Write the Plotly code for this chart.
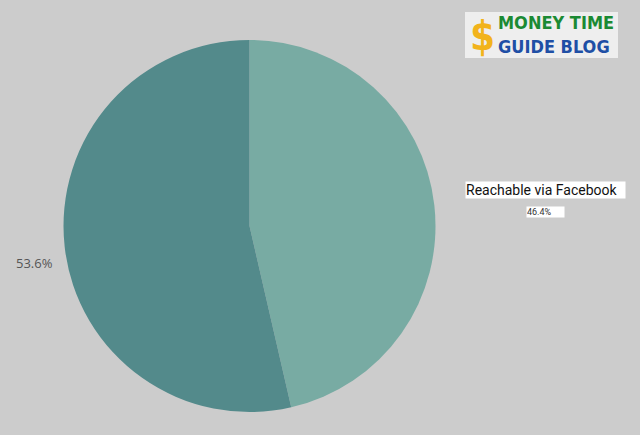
import plotly.graph_objects as go

labels = ["Reachable via Facebook", "Not reachable"]
values = [46.4, 53.6]
colors = ["#78aba3", "#538a8b"]

W, H = 640, 435
fig = go.Figure()
fig.add_trace(go.Pie(
    labels=labels, values=values, sort=False, direction="clockwise", rotation=0,
    marker=dict(colors=colors, line=dict(width=0)),
    textinfo="none", hoverinfo="label+percent", showlegend=False,
    domain=dict(x=[63/W, 436/W], y=[(H-412)/H, (H-40)/H]),
))

pct = [f"{v/sum(values)*100:.1f}%" for v in values]

# Outside label for the dark slice
fig.add_annotation(x=14/W, y=1-263/H, xref="paper", yref="paper", text=pct[1],
                   showarrow=False, xanchor="left", yanchor="middle",
                   font=dict(family="Open Sans, Arial", size=13, color="#555555"))
# Label box for the light slice
fig.add_annotation(x=465/W, y=1-190/H, xref="paper", yref="paper", text=labels[0],
                   showarrow=False, xanchor="left", yanchor="middle",
                   bgcolor="white", borderpad=0, width=159, align="left",
                   font=dict(family="Roboto, Arial", size=14, color="#111111"))
fig.add_annotation(x=526/W, y=1-212/H, xref="paper", yref="paper", text=pct[0],
                   showarrow=False, xanchor="left", yanchor="middle",
                   bgcolor="white", borderpad=0, width=37, align="left",
                   font=dict(family="Roboto, Arial", size=9, color="#333333"))

# Logo
fig.add_shape(type="rect", xref="paper", yref="paper",
              x0=465/W, x1=618/W, y0=1-58/H, y1=1-12/H,
              fillcolor="#eeeeee", line=dict(width=0), layer="above")
fig.add_annotation(x=482/W, y=1-36/H, xref="paper", yref="paper", text="<b>$</b>",
                   showarrow=False, xanchor="center", yanchor="middle",
                   font=dict(family="DejaVu Sans Condensed, Arial", size=40, color="#f2b31b"))
fig.add_annotation(x=496/W, y=1-23/H, xref="paper", yref="paper", text="<b>MONEY TIME</b>",
                   showarrow=False, xanchor="left", yanchor="middle",
                   font=dict(family="DejaVu Sans Condensed, Arial", size=18, color="#1b8a33"))
fig.add_annotation(x=496/W, y=1-46/H, xref="paper", yref="paper", text="<b>GUIDE BLOG</b>",
                   showarrow=False, xanchor="left", yanchor="middle",
                   font=dict(family="DejaVu Sans Condensed, Arial", size=18, color="#1f4fa5"))

fig.update_layout(width=W, height=H, margin=dict(l=0, r=0, t=0, b=0),
                  paper_bgcolor="#cccccc", plot_bgcolor="#cccccc")
fig.write_html("out.html", config={"displayModeBar": False},
               post_script="document.body.style.margin='0';")
